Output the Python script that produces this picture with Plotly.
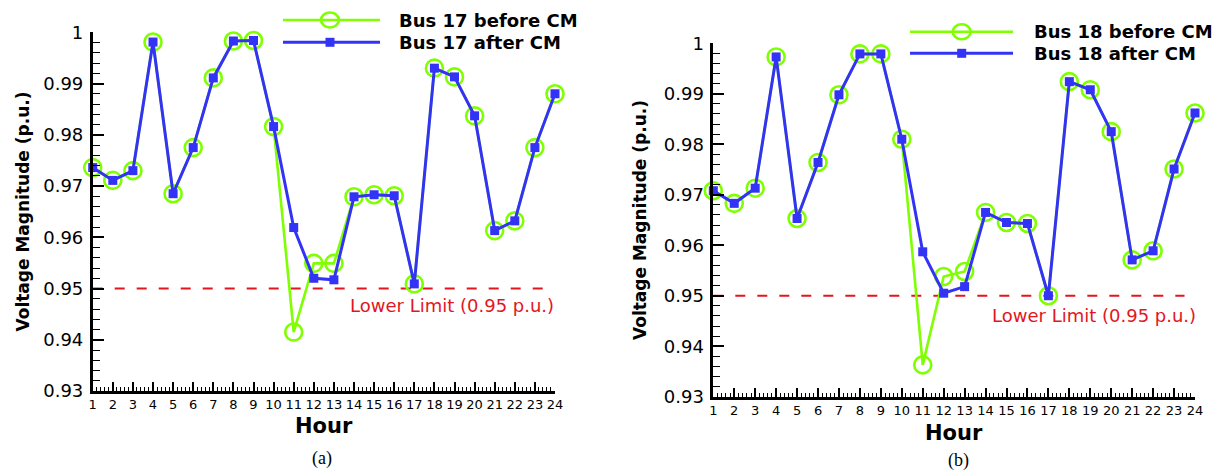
import plotly.graph_objects as go

W, H = 1228, 473

hours = list(range(1, 25))

bus17_before = [0.9736, 0.9711, 0.9730, 0.9981, 0.9685, 0.9775, 0.9911, 0.9983, 0.9984, 0.9816,
                0.9415, 0.9549, 0.9549, 0.9679, 0.9683, 0.9681, 0.9509, 0.9930, 0.9913, 0.9837,
                0.9613, 0.9632, 0.9775, 0.9880]
bus17_after = [0.9736, 0.9711, 0.9730, 0.9981, 0.9685, 0.9775, 0.9911, 0.9983, 0.9984, 0.9816,
               0.9619, 0.9520, 0.9517, 0.9679, 0.9683, 0.9681, 0.9509, 0.9930, 0.9913, 0.9837,
               0.9613, 0.9632, 0.9775, 0.9880]

bus18_before = [0.9708, 0.9683, 0.9713, 0.9973, 0.9653, 0.9764, 0.9898, 0.9979, 0.9979, 0.9810,
                0.9363, 0.9538, 0.9548, 0.9665, 0.9645, 0.9643, 0.9500, 0.9924, 0.9908, 0.9825,
                0.9571, 0.9589, 0.9751, 0.9862]
bus18_after = [0.9708, 0.9683, 0.9713, 0.9973, 0.9653, 0.9764, 0.9898, 0.9979, 0.9979, 0.9810,
               0.9587, 0.9505, 0.9518, 0.9665, 0.9645, 0.9643, 0.9500, 0.9924, 0.9908, 0.9825,
               0.9571, 0.9589, 0.9751, 0.9862]

limit_x = [1, 23.5]
limit_y = [0.95, 0.95]
limit_label = "Lower Limit (0.95 p.u.)"

y_ticks = [0.93, 0.94, 0.95, 0.96, 0.97, 0.98, 0.99, 1.0]
y_ticklabels = ["0.93", "0.94", "0.95", "0.96", "0.97", "0.98", "0.99", "1"]
x_ticklabels = [str(h) for h in hours]

GREEN = "#7fff00"
BLUE = "#3333f5"
RED = "#e3161e"
FONT = "DejaVu Sans"


def px(x):
    return x / W


def py(y):
    return 1 - y / H


fig = go.Figure()

panels = [
    dict(xa="x", ya="y", before=bus17_before, after=bus17_after, bus="17",
         xdom=[px(92.7), px(555)], ydom=[py(391), py(32.3)],
         label_pos=(18.9, 0.9466), ytitle=(22, 211.5), htitle=(323.9, 426), sub=("(a)", 322, 458),
         leg=dict(x0=283, x1=380, xm=330, yg=20, yb=42.3, tx=396.7)),
    dict(xa="x2", ya="y2", before=bus18_before, after=bus18_after, bus="18",
         xdom=[px(713.3), px(1195)], ydom=[py(396.7), py(43.3)],
         label_pos=(19.17, 0.946), ytitle=(640, 220), htitle=(954, 433), sub=("(b)", 958, 460),
         leg=dict(x0=910, x1=1013, xm=961.7, yg=31.7, yb=53.3, tx=1031.7)),
]

annotations = []
shapes = []

for i, p in enumerate(panels):
    fig.add_trace(go.Scatter(
        x=limit_x, y=limit_y, xaxis=p["xa"], yaxis=p["ya"], mode="lines",
        line=dict(color=RED, width=2, dash="10px,12px"), showlegend=False, hoverinfo="skip"))
    fig.add_trace(go.Scatter(
        x=hours, y=p["before"], xaxis=p["xa"], yaxis=p["ya"], mode="lines+markers",
        name=f"Bus {p['bus']} before CM",
        line=dict(color=GREEN, width=2.6),
        marker=dict(symbol="circle-open", size=17, color=GREEN, line=dict(width=2.6, color=GREEN)),
        cliponaxis=False, showlegend=False))
    fig.add_trace(go.Scatter(
        x=hours, y=p["after"], xaxis=p["xa"], yaxis=p["ya"], mode="lines+markers",
        name=f"Bus {p['bus']} after CM",
        line=dict(color=BLUE, width=3),
        marker=dict(symbol="square", size=9, color=BLUE),
        cliponaxis=False, showlegend=False))

    axx = dict(domain=p["xdom"], range=[1, 24], showline=True, linecolor="black", linewidth=2.6,
               showgrid=False, zeroline=False, ticks="inside", ticklen=9, tickwidth=1.6,
               tickcolor="black", tickvals=hours, ticktext=x_ticklabels,
               tickfont=dict(family=FONT, size=13, color="black"),
               minor=dict(dtick=0.2, tick0=1, ticks="inside", ticklen=4, tickwidth=1.2, tickcolor="black"),
               anchor=p["ya"], automargin=False, fixedrange=True)
    axy = dict(domain=p["ydom"], range=[0.93, 1.0], showline=True, linecolor="black", linewidth=2.6,
               showgrid=False, zeroline=False, ticks="inside", ticklen=11, tickwidth=1.6,
               tickcolor="black", tickvals=y_ticks, ticktext=y_ticklabels,
               tickfont=dict(family=FONT, size=18, color="black"), ticklabelstandoff=3,
               minor=dict(dtick=0.002, tick0=0.93, ticks="inside", ticklen=7, tickwidth=1.2, tickcolor="black"),
               anchor=p["xa"], automargin=False, fixedrange=True)
    suffix = "" if i == 0 else "2"
    fig.update_layout(**{f"xaxis{suffix}": axx, f"yaxis{suffix}": axy})

    # lower limit label
    annotations.append(dict(x=p["label_pos"][0], y=p["label_pos"][1], xref=p["xa"], yref=p["ya"],
                            text=limit_label, showarrow=False, xanchor="center", yanchor="middle",
                            font=dict(family=FONT, size=18, color=RED)))
    # y title
    annotations.append(dict(x=px(p["ytitle"][0]), y=py(p["ytitle"][1]), xref="paper", yref="paper",
                            text="<b>Voltage Magnitude (p.u.)</b>", textangle=-90, showarrow=False,
                            xanchor="center", yanchor="middle",
                            font=dict(family=FONT, size=17, color="black")))
    # x title
    annotations.append(dict(x=px(p["htitle"][0]), y=py(p["htitle"][1]), xref="paper", yref="paper",
                            text="<b>Hour</b>", showarrow=False, xanchor="center", yanchor="middle",
                            font=dict(family=FONT, size=21, color="black")))
    # subfigure label
    annotations.append(dict(x=px(p["sub"][1]), y=py(p["sub"][2]), xref="paper", yref="paper",
                            text=p["sub"][0], showarrow=False, xanchor="center", yanchor="middle",
                            font=dict(family="Liberation Serif", size=18, color="black")))

    # legend (manual, long sample lines like the original)
    L = p["leg"]
    shapes.append(dict(type="line", xref="paper", yref="paper", x0=px(L["x0"]), x1=px(L["x1"]),
                       y0=py(L["yg"]), y1=py(L["yg"]), line=dict(color=GREEN, width=2.6)))
    shapes.append(dict(type="circle", xref="paper", yref="paper",
                       x0=px(L["xm"] - 9), x1=px(L["xm"] + 9), y0=py(L["yg"] + 7.5), y1=py(L["yg"] - 7.5),
                       line=dict(color=GREEN, width=2.6), fillcolor="rgba(0,0,0,0)"))
    shapes.append(dict(type="line", xref="paper", yref="paper", x0=px(L["x0"]), x1=px(L["x1"]),
                       y0=py(L["yb"]), y1=py(L["yb"]), line=dict(color=BLUE, width=3)))
    shapes.append(dict(type="rect", xref="paper", yref="paper",
                       x0=px(L["xm"] - 4.5), x1=px(L["xm"] + 4.5), y0=py(L["yb"] + 4.5), y1=py(L["yb"] - 4.5),
                       line=dict(color=BLUE, width=0), fillcolor=BLUE))
    annotations.append(dict(x=px(L["tx"]), y=py(L["yg"]), xref="paper", yref="paper",
                            text=f"<b>Bus {p['bus']} before CM</b>", showarrow=False,
                            xanchor="left", yanchor="middle",
                            font=dict(family=FONT, size=18, color="black")))
    annotations.append(dict(x=px(L["tx"]), y=py(L["yb"]), xref="paper", yref="paper",
                            text=f"<b>Bus {p['bus']} after CM</b>", showarrow=False,
                            xanchor="left", yanchor="middle",
                            font=dict(family=FONT, size=18, color="black")))

fig.update_layout(
    width=W, height=H,
    margin=dict(l=0, r=0, t=0, b=0),
    paper_bgcolor="white", plot_bgcolor="white",
    showlegend=False,
    annotations=annotations,
    shapes=shapes,
    font=dict(family=FONT, color="black"),
)

fig.write_html("out.html", config={"displayModeBar": False},
               post_script="document.body.style.margin='0px';document.body.style.overflow='hidden';")
